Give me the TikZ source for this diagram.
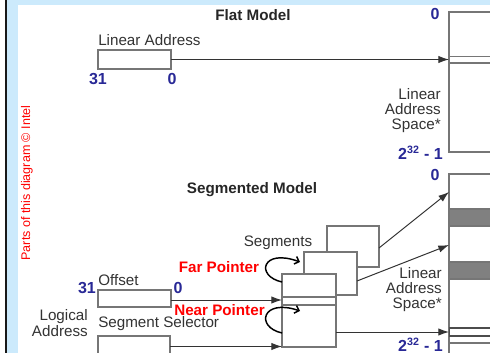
\documentclass[tikz,border=0pt]{standalone}
\usepackage{fontspec}
\setmainfont{Liberation Sans}
\usetikzlibrary{arrows.meta}
\definecolor{bandblue}{RGB}{204,234,252}
\definecolor{numblue}{RGB}{40,40,150}
\definecolor{outline}{RGB}{118,118,118}
\definecolor{bandgray}{RGB}{128,128,128}
\begin{document}
\begin{tikzpicture}[x=0.75pt,y=-0.75pt,
  box/.style={draw=outline,line width=0.9pt,fill=white,inner sep=0pt,outer sep=0pt},
  rule/.style={draw=outline,line width=0.9pt},
  lbl/.style={font=\fontsize{11.4}{11.25}\selectfont,text=black!80,inner sep=0pt},
  ttl/.style={font=\bfseries\fontsize{11.4}{12}\selectfont,text=black!85,inner sep=0pt},
  num/.style={font=\bfseries\fontsize{12}{12}\selectfont,text=numblue,inner sep=0pt},
  ptr/.style={font=\bfseries\fontsize{11.4}{12}\selectfont,text=red,inner sep=0pt},
  feed/.style={draw=black!80,line width=0.75pt,-{Latex[length=8pt,width=5.5pt]}},
  hook/.style={draw=black,line width=1.1pt,-{Straight Barb[length=3pt,width=6pt]}},
]
\useasboundingbox (0,0) rectangle (490,353);
\clip (0,0) rectangle (490,353);

% page frame
\fill[white] (0,0) rectangle (490,353);
\fill[bandblue] (7,0) rectangle (490,353);
\fill[white] (18,5) rectangle (490,353);
\fill[black!90] (5,0) rectangle (7,353);

\node[rotate=90,text=red,inner sep=0pt,font=\fontsize{9.4}{10}\selectfont] (credit) at (27,183) {Parts of this diagram © Intel};

% ---------------- flat model ----------------
\node[ttl] (flattitle) at (253,15) {Flat Model};
\node[box,minimum width=32.25pt,minimum height=105pt] (flatspace) at (470.5,82) {};
\draw[rule] (449,56.5) -- (492,56.5);
\draw[rule] (449,63) -- (492,63);
\node[num] (flattop) at (435,14) {0};
\node[num,anchor=east] (flatbot) at (443,153) {2\textsuperscript{32} - 1};
\node[lbl,anchor=east,align=right,font=\fontsize{11.4}{11.25}\selectfont] (flatlas) at (441,111) {Linear\\Address\\Space*};

\node[box,minimum width=54.75pt,minimum height=14.25pt] (linaddr) at (134.5,59.5) {};
\node[lbl,anchor=west] (linlbl) at (98,40) {Linear Address};
\node[num] (lin31) at (98,79) {31};
\node[num] (lin0) at (172,79) {0};
\draw[feed] (linaddr.east) -- (linaddr.east -| flatspace.west);

% ---------------- segmented model ----------------
\node[ttl] (segtitle) at (252,190) {Segmented Model};
\node[box,minimum width=32.25pt,minimum height=139.5pt] (segspace) at (470.5,267) {};
\filldraw[fill=bandgray,draw=outline,line width=0.9pt] (449,209) rectangle (492,226);
\filldraw[fill=bandgray,draw=outline,line width=0.9pt] (449,262) rectangle (492,279);
\draw[draw=black!70,line width=1.1pt] (449.5,328) rectangle (492,336);
\draw[rule] (449,343) -- (492,343);
\node[num] (segtop) at (435,175) {0};
\node[num,anchor=east] (segbot) at (443,345) {2\textsuperscript{32} - 1};
\node[lbl,anchor=east,align=right,font=\fontsize{11.4}{11.25}\selectfont] (seglas) at (442,290) {Linear\\Address\\Space*};

% stacked segments
\node[box,minimum width=39pt,minimum height=30.75pt] (back) at (353,246.5) {};
\node[box,minimum width=39.75pt,minimum height=32.25pt] (middle) at (330.5,273.5) {};
\node[box,minimum width=40.5pt,minimum height=54.75pt] (front) at (309,310.5) {};
\draw[rule] (282,297) -- (336,297);
\draw[rule] (282,305) -- (336,305);
\node[lbl] (seglbl) at (278,243) {Segments};

\coordinate (hitA) at (449,192);
\coordinate (hitB) at (449,245);
\coordinate (hitC) at (449,332);
\draw[feed] (back.east |- 0,248) -- (hitA);
\draw[feed] (middle.east |- 0,281) -- (hitB);
\draw[feed] (front.east |- hitC) -- (hitC);

% logical address
\node[box,minimum width=54.75pt,minimum height=12.75pt] (offset) at (134.5,298.5) {};
\node[box,minimum width=54pt,minimum height=15.75pt] (selector) at (134,346.5) {};
\node[lbl,anchor=west] (offlbl) at (98,280) {Offset};
\node[num] (off31) at (87,288) {31};
\node[num] (off0) at (178,288) {0};
\node[lbl,anchor=west] (sellbl) at (98,324) {Segment Selector};
\node[lbl,anchor=east,align=right,font=\fontsize{11.4}{12}\selectfont] (logical) at (88,323) {Logical\\Address};

\draw[feed] (offset.east |- 0,300) -- (front.west |- 0,300);
\draw[feed] (selector.east |- 0,346.5) -- (front.west |- 0,346.5);

% pointer hooks
\node[ptr] (farptr) at (219,267) {Far Pointer};
\node[ptr] (nearptr) at (219.5,310) {Near Pointer};
\draw[hook] (front.north west |- 0,282) .. controls (255,276) and (262,248) .. (300,262);
\draw[hook] (front.west |- 0,333) .. controls (255,327) and (262,298) .. (300,311);
\end{tikzpicture}
\end{document}
